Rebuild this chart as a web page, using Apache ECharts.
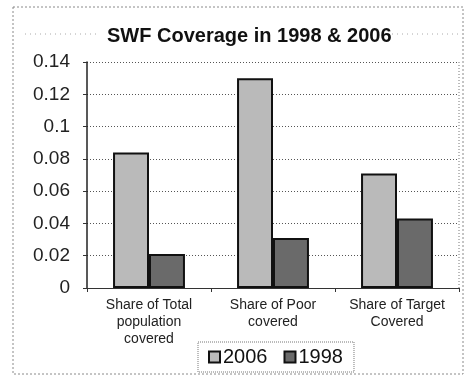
<!DOCTYPE html>
<html>
<head>
<meta charset="utf-8">
<script src="https://cdn.jsdelivr.net/npm/echarts@6/dist/echarts.min.js"></script>
<style>
  html, body { margin: 0; padding: 0; background: #fff; }
  #chart { width: 467px; height: 378px; }
</style>
</head>
<body>
<div id="chart"></div>
<script>
// Social welfare fund coverage shares by group
const categories = ['Share of Total\npopulation\ncovered', 'Share of Poor\ncovered', 'Share of Target\nCovered'];
const values2006 = [0.084, 0.130, 0.071];
const values1998 = [0.021, 0.031, 0.043];
const yTicks = { min: 0, max: 0.14, interval: 0.02 };

const chart = echarts.init(document.getElementById('chart'), null, { renderer: 'canvas' });

const font = 'Liberation Sans, Arial, Helvetica, sans-serif';

chart.setOption({
  backgroundColor: '#ffffff',
  animation: false,
  title: {
    text: 'SWF Coverage in 1998 & 2006',
    left: 102,
    top: 21,
    textStyle: { fontFamily: font, fontSize: 20, fontWeight: 'bold', color: '#111' }
  },
  graphic: [
    { type: 'rect', shape: { x: 13, y: 7, width: 450, height: 367 },
      style: { fill: 'none', stroke: '#8a8a8a', lineWidth: 1, lineDash: [2, 2] }, silent: true },
    { type: 'line', shape: { x1: 25, y1: 34, x2: 96, y2: 34 },
      style: { stroke: '#aaa', lineWidth: 1, lineDash: [1, 4] }, silent: true },
    { type: 'line', shape: { x1: 392, y1: 34, x2: 460, y2: 34 },
      style: { stroke: '#aaa', lineWidth: 1, lineDash: [1, 4] }, silent: true },
    { type: 'line', shape: { x1: 459, y1: 62, x2: 459, y2: 288 },
      style: { stroke: '#777', lineWidth: 1, lineDash: [1, 2] }, silent: true }
  ],
  legend: {
    data: [{ name: '2006', icon: 'rect' }, { name: '1998', icon: 'rect' }],
    left: 198,
    top: 342,
    padding: [5, 11, 5, 10],
    itemWidth: 11,
    itemHeight: 11,
    itemGap: 16,
    borderColor: '#777',
    borderWidth: 1,
    borderType: 'dotted',
    textStyle: { fontFamily: font, fontSize: 20, color: '#111', padding: [0, 0, 0, -2] }
  },
  grid: { left: 87, right: 8, top: 62, bottom: 90 },
  xAxis: {
    type: 'category',
    data: categories,
    axisLine: { lineStyle: { color: '#333', width: 1 } },
    axisTick: { show: true, length: 4, lineStyle: { color: '#333' } },
    axisLabel: {
      fontFamily: font, fontSize: 14, color: '#222', lineHeight: 17,
      margin: 9, interval: 0
    }
  },
  yAxis: {
    type: 'value',
    min: yTicks.min,
    max: yTicks.max,
    interval: yTicks.interval,
    axisLine: { show: true, lineStyle: { color: '#222', width: 1.5 } },
    axisTick: { show: true, length: 4, lineStyle: { color: '#333' } },
    axisLabel: {
      fontFamily: font, fontSize: 19, color: '#222', margin: 17,
      formatter: v => (v === 0 ? '0' : String(parseFloat(v.toFixed(2))))
    },
    splitLine: { show: true, lineStyle: { color: '#555', width: 1, type: [1, 2] } }
  },
  series: [
    {
      name: '2006',
      type: 'bar',
      data: values2006,
      barGap: '0%',
      barCategoryGap: '42%',
      itemStyle: { color: '#bababa', borderColor: '#111', borderWidth: 2 }
    },
    {
      name: '1998',
      type: 'bar',
      data: values1998,
      itemStyle: { color: '#6a6a6a', borderColor: '#111', borderWidth: 2 }
    }
  ]
});
</script>
</body>
</html>
